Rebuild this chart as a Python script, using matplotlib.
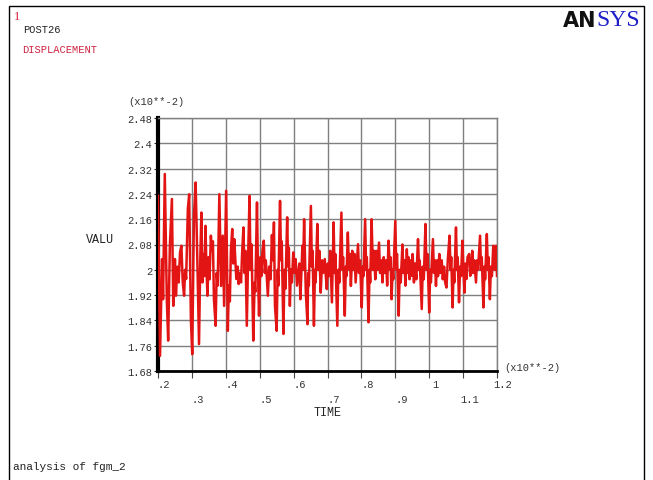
import numpy as np
import matplotlib
matplotlib.use('Agg')
import matplotlib.pyplot as plt
from matplotlib.patches import Rectangle


######################
# Data (time in x10**-2, displacement in x10**-2)
time = [0.200, 0.206, 0.212, 0.215, 0.220, 0.226, 0.230, 0.235, 0.241, 0.245,
        0.250, 0.253, 0.257, 0.261, 0.265, 0.269, 0.273, 0.277, 0.280, 0.283,
        0.288, 0.292, 0.297, 0.301, 0.306, 0.311, 0.316, 0.321, 0.325, 0.328,
        0.331, 0.334, 0.337, 0.340, 0.343, 0.346, 0.349, 0.352, 0.356, 0.359,
        0.362, 0.365, 0.370, 0.373, 0.376, 0.381, 0.386, 0.391, 0.395, 0.401,
        0.406, 0.409, 0.412, 0.415, 0.419, 0.422, 0.425, 0.431, 0.435, 0.438,
        0.441, 0.445, 0.448, 0.452, 0.455, 0.458, 0.462, 0.466, 0.470, 0.473,
        0.476, 0.481, 0.485, 0.487, 0.492, 0.495, 0.498, 0.502, 0.505, 0.508,
        0.512, 0.515, 0.518, 0.524, 0.528, 0.532, 0.536, 0.539, 0.542, 0.545,
        0.550, 0.553, 0.555, 0.560, 0.563, 0.565, 0.570, 0.573, 0.576, 0.581,
        0.584, 0.586, 0.589, 0.592, 0.595, 0.599, 0.603, 0.606, 0.610, 0.613,
        0.617, 0.620, 0.623, 0.626, 0.628, 0.631, 0.636, 0.641, 0.643, 0.645,
        0.651, 0.654, 0.656, 0.660, 0.663, 0.665, 0.670, 0.673, 0.676, 0.680,
        0.684, 0.687, 0.692, 0.695, 0.698, 0.701, 0.704, 0.708, 0.713, 0.718,
        0.721, 0.723, 0.729, 0.732, 0.735, 0.741, 0.744, 0.746, 0.751, 0.754,
        0.756, 0.760, 0.763, 0.766, 0.769, 0.773, 0.776, 0.780, 0.783, 0.787,
        0.790, 0.793, 0.796, 0.801, 0.804, 0.806, 0.811, 0.814, 0.816, 0.821,
        0.824, 0.826, 0.830, 0.834, 0.837, 0.841, 0.844, 0.847, 0.852, 0.855,
        0.859, 0.862, 0.866, 0.869, 0.873, 0.876, 0.880, 0.884, 0.886, 0.889,
        0.892, 0.894, 0.900, 0.903, 0.905, 0.910, 0.913, 0.916, 0.921, 0.924,
        0.927, 0.930, 0.934, 0.937, 0.939, 0.942, 0.945, 0.948, 0.951, 0.955,
        0.958, 0.962, 0.967, 0.970, 0.972, 0.978, 0.981, 0.984, 0.989, 0.992,
        0.995, 1.000, 1.003, 1.005, 1.011, 1.014, 1.017, 1.020, 1.023, 1.026,
        1.030, 1.033, 1.037, 1.040, 1.044, 1.047, 1.051, 1.055, 1.060, 1.063,
        1.065, 1.069, 1.072, 1.074, 1.079, 1.082, 1.084, 1.088, 1.091, 1.094,
        1.098, 1.101, 1.104, 1.107, 1.110, 1.113, 1.118, 1.121, 1.124, 1.127,
        1.130, 1.133, 1.138, 1.141, 1.144, 1.150, 1.153, 1.155, 1.160, 1.163,
        1.165, 1.170, 1.173, 1.175, 1.179, 1.182, 1.185, 1.189, 1.193, 1.197,
        1.200]
valu = [2.234, 1.728, 2.034, 1.907, 2.303, 1.907, 1.776, 2.076, 2.224, 1.886,
        2.034, 1.918, 2.010, 1.960, 2.055, 2.076, 1.960, 1.918, 2.000, 1.971,
        2.192, 2.239, 1.844, 1.733, 2.171, 2.276, 2.034, 1.765, 2.050, 2.181,
        1.960, 2.050, 1.980, 2.139, 2.000, 1.918, 2.040, 1.970, 2.108, 2.060,
        2.090, 1.907, 1.823, 1.990, 1.950, 2.239, 1.949, 2.108, 1.886, 2.250,
        1.807, 1.950, 1.900, 2.060, 2.129, 2.020, 2.097, 1.971, 2.010, 1.955,
        1.990, 1.960, 2.050, 2.134, 1.990, 2.060, 1.823, 2.050, 2.234, 2.000,
        2.080, 1.776, 1.960, 1.930, 2.213, 1.990, 1.855, 2.040, 1.980, 2.060,
        2.092, 1.990, 2.030, 1.918, 2.010, 1.970, 2.110, 2.030, 2.150, 1.886,
        1.807, 2.000, 1.950, 2.218, 2.030, 2.090, 1.797, 2.000, 1.940, 2.166,
        2.010, 2.070, 1.886, 2.002, 1.960, 2.055, 1.990, 2.034, 1.950, 1.981,
        2.020, 1.907, 1.990, 2.076, 2.000, 2.160, 1.928, 1.828, 1.990, 1.950,
        2.202, 2.010, 2.060, 1.823, 2.000, 1.960, 2.145, 2.000, 2.060, 1.928,
        2.030, 1.990, 2.034, 1.980, 1.939, 2.020, 1.980, 2.060, 1.897, 2.150,
        1.990, 2.050, 1.823, 2.000, 1.960, 2.181, 2.000, 2.040, 1.855, 2.010,
        1.980, 2.118, 2.002, 2.050, 1.949, 2.060, 2.000, 2.050, 1.960, 2.030,
        2.081, 1.990, 2.030, 1.881, 2.010, 1.980, 2.160, 2.000, 2.040, 1.834,
        2.000, 1.960, 2.160, 2.000, 2.060, 1.970, 2.060, 2.000, 2.086, 1.990,
        2.030, 1.960, 2.040, 1.990, 2.030, 1.950, 2.092, 2.002, 2.040, 1.907,
        2.000, 1.970, 2.155, 2.000, 2.050, 1.855, 2.000, 1.960, 2.080, 1.990,
        2.030, 1.950, 2.065, 1.990, 2.040, 1.970, 2.030, 1.981, 2.050, 1.960,
        2.020, 1.970, 2.097, 2.000, 2.030, 1.876, 2.010, 1.970, 2.145, 2.000,
        2.050, 1.865, 2.000, 1.960, 2.097, 1.990, 2.030, 1.949, 2.030, 1.980,
        2.050, 1.990, 2.030, 1.970, 2.010, 1.960, 1.944, 2.034, 2.108, 2.000,
        2.040, 1.881, 2.000, 1.960, 2.134, 2.000, 2.040, 1.897, 2.010, 1.980,
        2.092, 2.000, 1.928, 2.020, 1.971, 2.040, 2.050, 1.981, 1.990, 2.060,
        1.990, 2.030, 1.960, 2.030, 2.000, 2.108, 2.000, 2.040, 1.881, 2.010,
        1.970, 2.113, 2.000, 2.040, 1.907, 2.010, 1.980, 2.076, 2.000, 2.076,
        1.981]

# Axis ticks and labels
x_ticks = [0.2, 0.3, 0.4, 0.5, 0.6, 0.7, 0.8, 0.9, 1.0, 1.1, 1.2]
x_labels = ['.2', '.3', '.4', '.5', '.6', '.7', '.8', '.9', '1', '1.1', '1.2']
y_ticks = [1.68, 1.76, 1.84, 1.92, 2.00, 2.08, 2.16, 2.24, 2.32, 2.40, 2.48]
y_labels = ['1.68', '1.76', '1.84', '1.92', '2', '2.08', '2.16', '2.24',
            '2.32', '2.4', '2.48']

W, H = 653, 481
mono = 'Liberation Mono'


def px(x, y):
    # pixel position -> figure fraction
    return x / W, 1 - y / H


fig = plt.figure(figsize=(W / 100, H / 100), dpi=100)
fig.patch.set_facecolor('white')

# Outer frame
fig.patches.append(Rectangle(px(9, 490), 635 / W, 483 / H,
                             transform=fig.transFigure, fill=False,
                             edgecolor='black', linewidth=1.0))

# Plot area
ax = fig.add_axes([158 / W, (H - 372) / H, 339 / W, 253 / H])
ax.plot(time, valu, color='#e31414', linewidth=1.8, zorder=3)
ax.set_xlim(0.2, 1.2)
ax.set_ylim(1.68, 2.48)

ax.set_xticks(x_ticks)
ax.set_xticklabels([''] * len(x_ticks))
ax.set_yticks(y_ticks)
ax.set_yticklabels(y_labels, fontfamily=mono, fontsize=7.5, color='#333333')
ax.tick_params(axis='x', length=5, width=0.8, direction='out', color='#444444')
ax.tick_params(axis='y', length=3, width=0.8, direction='out', pad=1,
               color='#333333')
ax.grid(True, color='#7f7f7f', linewidth=1.0)
ax.set_axisbelow(True)

for side in ['top', 'right']:
    ax.spines[side].set_color('#7f7f7f')
    ax.spines[side].set_linewidth(1.0)
ax.spines['left'].set_linewidth(3.0)
ax.spines['left'].set_color('black')
ax.spines['bottom'].set_linewidth(2.0)
ax.spines['bottom'].set_color('black')

# x tick labels on two staggered rows
for i, (t, lab) in enumerate(zip(x_ticks, x_labels)):
    row_y = -0.052 if i % 2 == 0 else -0.111
    ax.text(t + 0.018, row_y, lab, transform=ax.get_xaxis_transform(),
            ha='center', va='center', fontfamily=mono, fontsize=7.5,
            color='#333333')

# Axis titles and multipliers
fig.text(*px(156, 102), '(x10**-2)', ha='center', va='center',
         fontfamily=mono, fontsize=7.5, color='#333333')
fig.text(*px(532, 368), '(x10**-2)', ha='center', va='center',
         fontfamily=mono, fontsize=7.5, color='#333333')
fig.text(*px(100, 240), 'VALU', ha='center', va='center',
         fontfamily=mono, fontsize=8.5, color='#222222')
fig.text(*px(328, 413), 'TIME', ha='center', va='center',
         fontfamily=mono, fontsize=8.5, color='#222222')

# Header and footer text
fig.text(*px(14, 17), '1', ha='left', va='center', fontfamily='Liberation Serif',
         fontsize=9, color='#d0203a')
fig.text(*px(23, 30), 'POST26', ha='left', va='center', fontfamily=mono,
         fontsize=7.5, color='#222222')
fig.text(*px(22, 50), 'DISPLACEMENT', ha='left', va='center', fontfamily=mono,
         fontsize=7.5, color='#cc2040')
fig.text(*px(13, 467), 'analysis of fgm_2', ha='left', va='center',
         fontfamily=mono, fontsize=8, color='#222222')

# ANSYS logo
fig.text(*px(596, 21), 'AN', ha='right', va='center', fontfamily='DejaVu Sans',
         fontweight='heavy', fontsize=15, color='#111111')
fig.text(*px(596, 21), 'SYS', ha='left', va='center',
         fontfamily='Liberation Serif', fontsize=17, color='#2020c8')

fig.savefig('out.png', dpi=100)
